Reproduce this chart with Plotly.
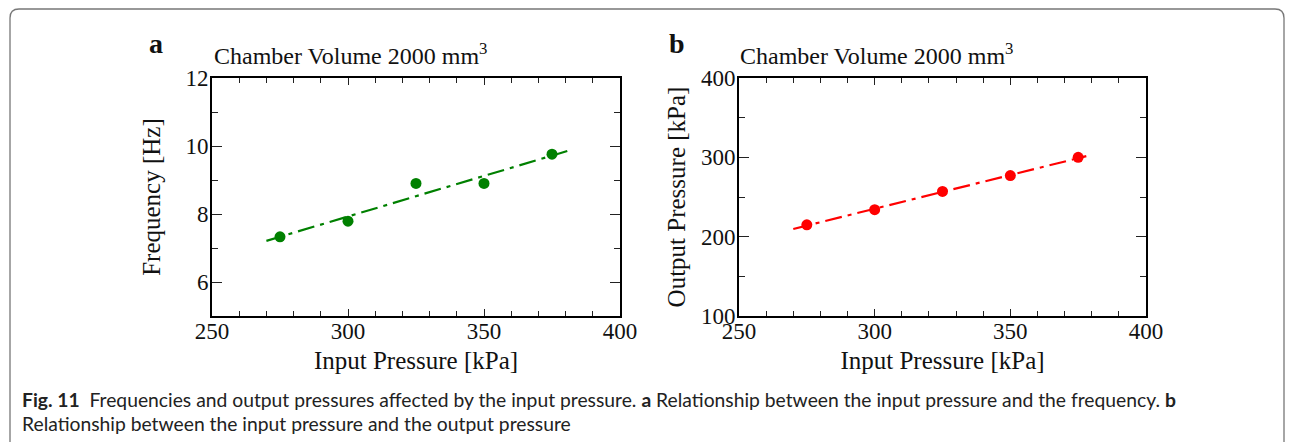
import plotly.graph_objects as go

# ---- data ----
input_pressure = [275, 300, 325, 350, 375]
frequency_hz = [7.33, 7.79, 8.90, 8.90, 9.76]
output_pressure = [215, 234, 257, 277, 300]

fit_x_a = [270, 381]
fit_y_a = [7.21, 9.86]
fit_x_b = [270, 378]
fit_y_b = [209.7, 301.5]

x_ticks = [250, 300, 350, 400]
panel_title = "Chamber Volume 2000 mm<sup>3</sup>"
x_title = "Input Pressure [kPa]"
y_title_a = "Frequency [Hz]"
y_title_b = "Output Pressure [kPa]"
caption_1 = ("<b>Fig. 11</b>  Frequencies and output pressures affected by the input pressure. "
             "<b>a</b> Relationship between the input pressure and the frequency. <b>b</b>")
caption_2 = "Relationship between the input pressure and the output pressure"

# page has an 8px body margin: size the figure to fit the 1295x442 window
OFF = 8
W, H = 1295 - OFF, 442 - OFF
def px(x):
    return (x - OFF) / W
def py(y):
    return 1 - (y - OFF) / H

SERIF = "Liberation Serif"
DASH = "17px,6px,4px,6px"

fig = go.Figure()

fig.add_trace(go.Scatter(x=fit_x_a, y=fit_y_a, mode="lines",
                         line=dict(color="#008000", width=2.2, dash=DASH),
                         xaxis="x", yaxis="y", showlegend=False))
fig.add_trace(go.Scatter(x=input_pressure, y=frequency_hz, mode="markers",
                         marker=dict(color="#008000", size=11),
                         xaxis="x", yaxis="y", showlegend=False))
fig.add_trace(go.Scatter(x=fit_x_b, y=fit_y_b, mode="lines",
                         line=dict(color="#ff0000", width=2.2, dash=DASH),
                         xaxis="x2", yaxis="y2", showlegend=False))
fig.add_trace(go.Scatter(x=input_pressure, y=output_pressure, mode="markers",
                         marker=dict(color="#ff0000", size=11),
                         xaxis="x2", yaxis="y2", showlegend=False))

ydom = [py(316), py(78)]
dom_a = [px(212), px(620)]
dom_b = [px(739), px(1146)]

def xaxis(domain, anchor):
    return dict(domain=domain, anchor=anchor, range=[250, 400], tickvals=x_ticks,
                automargin=False,
                showline=True, linecolor="black", linewidth=1.6, mirror="allticks",
                ticks="inside", ticklen=7, tickwidth=1.3, tickcolor="#222",
                minor=dict(dtick=10, tick0=250, ticks="inside", ticklen=5, tickwidth=1.2, tickcolor="#222"),
                showgrid=False, zeroline=False,
                ticklabelstandoff=-6,
                tickfont=dict(family=SERIF, size=23, color="#111"),
                title=dict(text=x_title, font=dict(family=SERIF, size=25, color="#111"), standoff=8))

def yaxis(domain, anchor, rng, dtick, minor_dtick, title, standoff):
    return dict(domain=domain, anchor=anchor, range=rng, dtick=dtick, tick0=0,
                automargin=False,
                showline=True, linecolor="black", linewidth=1.6, mirror="allticks",
                ticks="inside", ticklen=10, tickwidth=1.3, tickcolor="#222",
                minor=dict(dtick=minor_dtick, ticks="inside", ticklen=6, tickwidth=1.2, tickcolor="#222"),
                showgrid=False, zeroline=False,
                ticklabelstandoff=-3,
                tickfont=dict(family=SERIF, size=23, color="#111"),
                title=dict(text=title, font=dict(family=SERIF, size=25, color="#111"), standoff=standoff))

fig.update_layout(
    template=None,
    width=W, height=H,
    margin=dict(l=0, r=0, t=0, b=0, autoexpand=False),
    plot_bgcolor="white", paper_bgcolor="white",
    xaxis=xaxis(dom_a, "y"),
    yaxis=yaxis(ydom, "x", [5, 12], 2, 1, y_title_a, 18),
    xaxis2=xaxis(dom_b, "y2"),
    yaxis2=yaxis(ydom, "x2", [100, 400], 100, 50, y_title_b, 8),
)

annotations = [
    dict(text="<b>a</b>", x=px(147), y=py(44), xanchor="left", yanchor="middle",
         font=dict(family=SERIF, size=28, color="#111")),
    dict(text="<b>b</b>", x=px(667), y=py(43), xanchor="left", yanchor="middle",
         font=dict(family=SERIF, size=28, color="#111")),
    dict(text=panel_title, x=px(212), y=py(54), xanchor="left", yanchor="middle",
         font=dict(family=SERIF, size=24, color="#111")),
    dict(text=panel_title, x=px(738), y=py(54), xanchor="left", yanchor="middle",
         font=dict(family=SERIF, size=24, color="#111")),
    dict(text=caption_1, x=px(20), y=py(399), xanchor="left", yanchor="middle",
         font=dict(family="Lato", size=19.3, color="#222")),
    dict(text=caption_2, x=px(20), y=py(423), xanchor="left", yanchor="middle",
         font=dict(family="Lato", size=19.3, color="#222")),
]
for a in annotations:
    a.update(xref="paper", yref="paper", showarrow=False)
fig.update_layout(annotations=annotations)

# rounded frame around figure (top, left, right sides)
L, R, T, B, r = 10, 1284, 9, 460, 9
path = (f"M {px(L)},{py(B)} L {px(L)},{py(T + r)} "
        f"Q {px(L)},{py(T)} {px(L + r)},{py(T)} "
        f"L {px(R - r)},{py(T)} Q {px(R)},{py(T)} {px(R)},{py(T + r)} "
        f"L {px(R)},{py(B)}")
fig.add_shape(type="path", path=path, xref="paper", yref="paper",
              line=dict(color="#777", width=1.3), layer="above")

fig.write_html("out.html")
